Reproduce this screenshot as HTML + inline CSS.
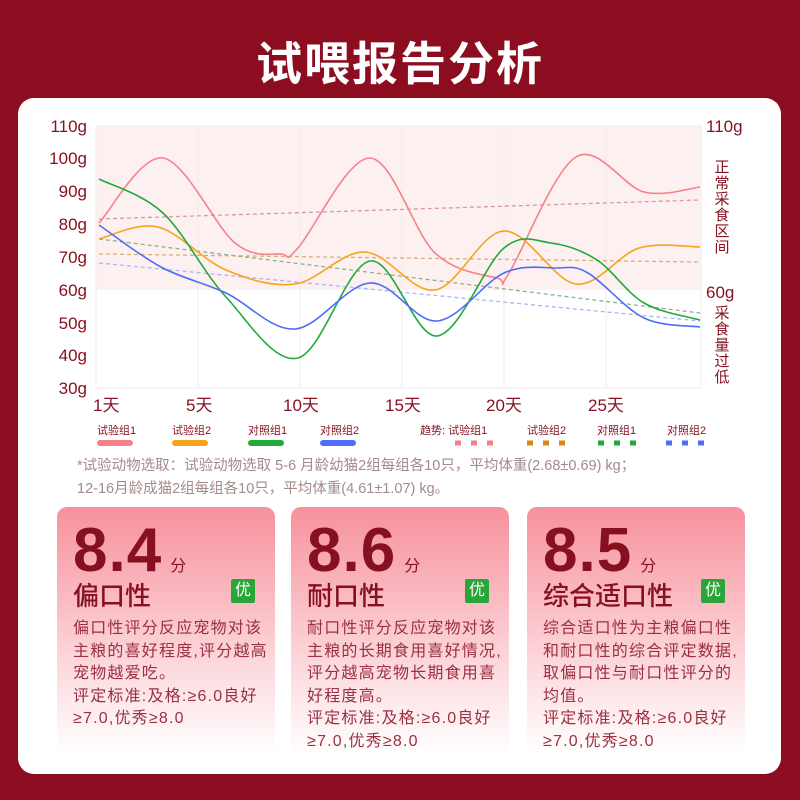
<!DOCTYPE html>
<html><head><meta charset="utf-8"><style>
*{margin:0;padding:0;box-sizing:border-box}
body{width:800px;height:800px;background:#8c0d1f;font-family:"Liberation Sans","Noto Sans CJK SC",sans-serif;position:relative;overflow:hidden}
.title{position:absolute;top:28px;left:0;width:800px;text-align:center;color:#fff;font-size:46px;font-weight:bold;letter-spacing:2px}
.panel{position:absolute;left:18px;top:98px;width:763px;height:676px;background:#fff;border-radius:16px}
svg{position:absolute;left:0;top:0}
.note{position:absolute;left:77px;top:455px;width:660px;font-size:14.5px;line-height:23px;color:#a58a8a;white-space:nowrap}
.card{position:absolute;top:507px;width:218px;height:248px;border-radius:10px;background:linear-gradient(#f7919d,#fde5e8 75%,#fff);color:#8a1426}
.sc{position:absolute;left:16px;top:8px;font-size:62px;font-weight:bold;color:#86101f;letter-spacing:1px}
.sc span{font-size:16px;font-weight:normal;margin-left:8px}
.nm{position:absolute;left:16px;top:69px;font-size:26px;color:#86101f;font-weight:500}
.yo{position:absolute;right:20px;top:72px;width:24px;height:24px;background:#2aa538;color:#fff;font-size:16px;text-align:center;line-height:24px;border-radius:2px}
.ds{position:absolute;left:16px;top:111px;width:205px;font-size:16px;letter-spacing:1.2px;line-height:22.5px;color:#9a3040}
</style></head><body>
<div class="title">试喂报告分析</div>
<div class="panel"></div>
<svg width="800" height="800" id="s" font-family="Liberation Sans, Noto Sans CJK SC, sans-serif">
<rect x="96" y="125" width="605" height="165" fill="#fdf0f1"/>
<g stroke="#ececec" stroke-width="1">
<line x1="198" y1="125" x2="198" y2="388"/><line x1="300" y1="125" x2="300" y2="388"/><line x1="402" y1="125" x2="402" y2="388"/><line x1="504" y1="125" x2="504" y2="388"/><line x1="606" y1="125" x2="606" y2="388"/><line x1="701" y1="125" x2="701" y2="388"/>
<line x1="96" y1="125" x2="96" y2="388"/><line x1="96" y1="388" x2="701" y2="388"/>
</g>
<g fill="#86101f" font-size="17" text-anchor="end">
<text x="87" y="132">110g</text><text x="87" y="164">100g</text><text x="87" y="197">90g</text><text x="87" y="230">80g</text><text x="87" y="263">70g</text><text x="87" y="296">60g</text><text x="87" y="329">50g</text><text x="87" y="361">40g</text><text x="87" y="394">30g</text>
</g>
<g fill="#86101f" font-size="17">
<text x="706" y="132">110g</text><text x="706" y="298">60g</text>
<text x="93" y="411">1天</text><text x="186" y="411">5天</text><text x="283" y="411">10天</text><text x="385" y="411">15天</text><text x="486" y="411">20天</text><text x="588" y="411">25天</text>
</g>
<g fill="#86101f" font-size="15" text-anchor="middle">
<text x="722" y="172">正</text><text x="722" y="188">常</text><text x="722" y="204">采</text><text x="722" y="220">食</text><text x="722" y="236">区</text><text x="722" y="252">间</text>
<text x="722" y="318">采</text><text x="722" y="334">食</text><text x="722" y="350">量</text><text x="722" y="366">过</text><text x="722" y="382">低</text>
</g>
<g fill="#86101f" font-size="11">
<text x="97" y="434">试验组1</text><text x="172" y="434">试验组2</text><text x="248" y="434">对照组1</text><text x="320" y="434">对照组2</text>
<text x="420" y="434">趋势: 试验组1</text><text x="527" y="434">试验组2</text><text x="597" y="434">对照组1</text><text x="667" y="434">对照组2</text>
</g>
<g stroke-width="6" stroke-linecap="round">
<line x1="100" y1="443" x2="130" y2="443" stroke="#f78087"/><line x1="175" y1="443" x2="205" y2="443" stroke="#f8a319"/><line x1="251" y1="443" x2="281" y2="443" stroke="#1faa3a"/><line x1="323" y1="443" x2="353" y2="443" stroke="#4d6ef7"/>
</g>
<g stroke-width="5" stroke-dasharray="6 10">
<line x1="455" y1="443" x2="495" y2="443" stroke="#f78087"/><line x1="527" y1="443" x2="567" y2="443" stroke="#d58a14"/><line x1="598" y1="443" x2="638" y2="443" stroke="#1faa3a"/><line x1="666" y1="443" x2="706" y2="443" stroke="#4d6ef7"/>
</g>
<g stroke-width="1.3" stroke-dasharray="4 3">
<line x1="99" y1="219" x2="700" y2="200" stroke="#d99a9e"/>
<line x1="99" y1="254" x2="700" y2="262" stroke="#d6b07a"/>
<line x1="99" y1="239" x2="700" y2="313" stroke="#8cb48c"/>
<line x1="99" y1="263" x2="700" y2="321" stroke="#a9b6f5"/>
</g>
<g id="curves" fill="none" stroke-width="1.6"></g>
</svg>
<div class="note">*试验动物选取：试验动物选取 5-6 月龄幼猫2组每组各10只，平均体重(2.68±0.69) kg；<br>12-16月龄成猫2组每组各10只，平均体重(4.61±1.07) kg。</div>
<div class="card" style="left:57px"><div class="sc">8.4<span>分</span></div><div class="nm">偏口性</div><div class="yo">优</div><div class="ds">偏口性评分反应宠物对该主粮的喜好程度,评分越高宠物越爱吃。<br>评定标准:及格:≥6.0良好≥7.0,优秀≥8.0</div></div>
<div class="card" style="left:291px"><div class="sc">8.6<span>分</span></div><div class="nm">耐口性</div><div class="yo">优</div><div class="ds">耐口性评分反应宠物对该主粮的长期食用喜好情况,评分越高宠物长期食用喜好程度高。<br>评定标准:及格:≥6.0良好≥7.0,优秀≥8.0</div></div>
<div class="card" style="left:527px"><div class="sc">8.5<span>分</span></div><div class="nm">综合适口性</div><div class="yo">优</div><div class="ds">综合适口性为主粮偏口性和耐口性的综合评定数据,取偏口性与耐口性评分的均值。<br>评定标准:及格:≥6.0良好≥7.0,优秀≥8.0</div></div>
<script>
var S={
"#f78087":[[99,223],[163,158],[235,243],[281,254],[298,248],[370,158],[435,253],[497,278],[509,273],[576,157],[644,192],[700,187]],
"#f8a319":[[99,239],[158,227],[226,270],[295,284],[365,252],[435,290],[504,231],[576,284],[639,248],[700,247]],
"#1faa3a":[[99,179],[163,213],[226,297],[298,358],[370,261],[437,336],[504,248],[551,243],[597,260],[644,303],[700,320]],
"#4d6ef7":[[99,225],[161,267],[226,293],[295,329],[370,283],[437,321],[504,273],[556,268],[588,273],[644,318],[700,327]]};
var g=document.getElementById('curves');
for(var c in S){var p=S[c],d="M"+p[0][0]+","+p[0][1];
for(var i=0;i<p.length-1;i++){var a=p[i-1]||p[i],b=p[i],e=p[i+1],f=p[i+2]||e;
d+=" C"+(b[0]+(e[0]-a[0])/6)+","+(b[1]+(e[1]-a[1])/6)+" "+(e[0]-(f[0]-b[0])/6)+","+(e[1]-(f[1]-b[1])/6)+" "+e[0]+","+e[1];}
var el=document.createElementNS("http://www.w3.org/2000/svg","path");el.setAttribute("d",d);el.setAttribute("stroke",c);g.appendChild(el);}
</script>
</body></html>
